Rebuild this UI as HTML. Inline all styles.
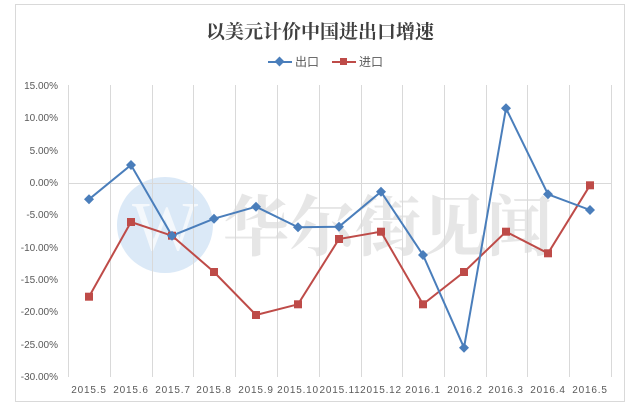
<!DOCTYPE html>
<html><head><meta charset="utf-8"><style>
html,body{margin:0;padding:0;background:#fff;}
svg{display:block;font-family:"Liberation Sans","Noto Sans CJK SC",sans-serif;}
</style></head><body>
<svg width="640" height="412" viewBox="0 0 640 412" xmlns="http://www.w3.org/2000/svg">
<rect x="15.5" y="4.5" width="609" height="397" fill="#fff" stroke="#d9d9d9"/>
<text x="320" y="38" text-anchor="middle" font-size="19" fill="#404040" font-family="'Noto Serif CJK SC','Liberation Serif',serif" font-weight="bold">以美元计价中国进出口增速</text>
<g font-size="12" fill="#595959">
<line x1="268" y1="62" x2="292" y2="62" stroke="#4a7ebb" stroke-width="2"/><rect x="276" y="58" width="7" height="7" fill="#4a7ebb" transform="rotate(45 279.5 61.5)"/>
<text x="295" y="66">出口</text>
<line x1="332" y1="62" x2="356" y2="62" stroke="#be4b48" stroke-width="2"/><rect x="340" y="58" width="7" height="7" fill="#be4b48"/>
<text x="359" y="66">进口</text>
</g>
<circle cx="165" cy="225" r="48" fill="#dbe9f7"/>
<text x="165" y="250" text-anchor="middle" font-size="70" fill="#f4f8fc" font-family="'Liberation Serif',serif">W</text>
<text x="388" y="250" text-anchor="middle" font-size="66" fill="#e6e6e6" font-family="'Noto Serif CJK SC',serif" font-weight="bold">华尔街见闻</text>
<g stroke="#d9d9d9" stroke-width="1">
<line x1="68.5" y1="85" x2="68.5" y2="377"/><line x1="110.5" y1="85" x2="110.5" y2="377"/><line x1="152.5" y1="85" x2="152.5" y2="377"/><line x1="193.5" y1="85" x2="193.5" y2="377"/><line x1="235.5" y1="85" x2="235.5" y2="377"/><line x1="277.5" y1="85" x2="277.5" y2="377"/><line x1="319.5" y1="85" x2="319.5" y2="377"/><line x1="361.5" y1="85" x2="361.5" y2="377"/><line x1="402.5" y1="85" x2="402.5" y2="377"/><line x1="444.5" y1="85" x2="444.5" y2="377"/><line x1="486.5" y1="85" x2="486.5" y2="377"/><line x1="527.5" y1="85" x2="527.5" y2="377"/><line x1="569.5" y1="85" x2="569.5" y2="377"/><line x1="611.5" y1="85" x2="611.5" y2="377"/>
<line x1="68" y1="183.5" x2="611" y2="183.5"/>
</g>
<g font-size="10" fill="#595959" text-anchor="end">
<text x="58" y="89">15.00%</text><text x="58" y="121">10.00%</text><text x="58" y="154">5.00%</text><text x="58" y="186">0.00%</text><text x="58" y="218">-5.00%</text><text x="58" y="251">-10.00%</text><text x="58" y="283">-15.00%</text><text x="58" y="315">-20.00%</text><text x="58" y="348">-25.00%</text><text x="58" y="380">-30.00%</text>
</g>
<g font-size="10" fill="#595959" text-anchor="middle" letter-spacing="0.8">
<text x="89" y="393">2015.5</text><text x="131" y="393">2015.6</text><text x="173" y="393">2015.7</text><text x="214" y="393">2015.8</text><text x="256" y="393">2015.9</text><text x="298" y="393">2015.10</text><text x="340" y="393">2015.11</text><text x="381" y="393">2015.12</text><text x="423" y="393">2016.1</text><text x="465" y="393">2016.2</text><text x="506" y="393">2016.3</text><text x="548" y="393">2016.4</text><text x="590" y="393">2016.5</text>
</g>
<polyline fill="none" stroke="#be4b48" stroke-width="2" points="89,296.7 131,222 172,235.7 214,272 256,315 298,304.3 339,239 381,231.7 423,304.3 464,272 506,231.7 548,253.3 590,185.3"/>
<polyline fill="none" stroke="#4a7ebb" stroke-width="2" points="89,199.3 131,165 172,235.7 214,218.7 256,206.7 298,227.3 339,226.7 381,191.7 423,255 464,347.7 506,108.3 548,194.3 590,210"/>
<g fill="#be4b48">
<rect x="85" y="292.7" width="8" height="8"/><rect x="127" y="218" width="8" height="8"/><rect x="168" y="231.7" width="8" height="8"/><rect x="210" y="268" width="8" height="8"/><rect x="252" y="311" width="8" height="8"/><rect x="294" y="300.3" width="8" height="8"/><rect x="335" y="235" width="8" height="8"/><rect x="377" y="227.7" width="8" height="8"/><rect x="419" y="300.3" width="8" height="8"/><rect x="460" y="268" width="8" height="8"/><rect x="502" y="227.7" width="8" height="8"/><rect x="544" y="249.3" width="8" height="8"/><rect x="586" y="181.3" width="8" height="8"/>
</g>
<g fill="#4a7ebb">
<path d="M89 194.3l5 5-5 5-5-5z"/><path d="M131 160l5 5-5 5-5-5z"/><path d="M172 230.7l5 5-5 5-5-5z"/><path d="M214 213.7l5 5-5 5-5-5z"/><path d="M256 201.7l5 5-5 5-5-5z"/><path d="M298 222.3l5 5-5 5-5-5z"/><path d="M339 221.7l5 5-5 5-5-5z"/><path d="M381 186.7l5 5-5 5-5-5z"/><path d="M423 250l5 5-5 5-5-5z"/><path d="M464 342.7l5 5-5 5-5-5z"/><path d="M506 103.3l5 5-5 5-5-5z"/><path d="M548 189.3l5 5-5 5-5-5z"/><path d="M590 205l5 5-5 5-5-5z"/>
</g>
</svg>
</body></html>
